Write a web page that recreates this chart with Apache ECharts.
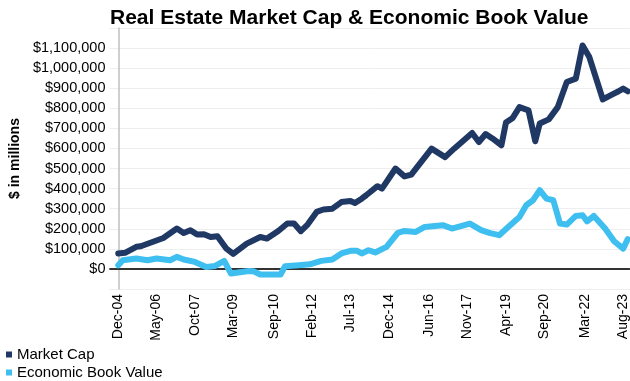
<!DOCTYPE html>
<html>
<head>
<meta charset="utf-8">
<script src="https://cdn.jsdelivr.net/npm/echarts@6/dist/echarts.min.js"></script>
<style>html,body{margin:0;padding:0;background:#fff;}#c{width:630px;height:381px;}</style>
</head>
<body>
<div id="c"></div>
<script>
var tickLabels = ['Dec-04','May-06','Oct-07','Mar-09','Sep-10','Feb-12','Jul-13','Dec-14','Jun-16','Nov-17','Apr-19','Sep-20','Mar-22','Aug-23'];

var marketCapDates = ['2004-12','2005-03','2005-08','2005-10','2006-08','2007-02','2007-05','2007-08','2007-11','2008-02','2008-05','2008-08','2008-12','2009-03','2009-09','2010-03','2010-06','2010-11','2011-03','2011-06','2011-09','2011-12','2012-04','2012-07','2012-11','2013-03','2013-07','2013-09','2013-12','2014-02','2014-07','2014-09','2015-03','2015-07','2015-10','2016-07','2017-01','2017-05','2018-01','2018-04','2018-07','2018-10','2019-02','2019-04','2019-07','2019-10','2020-02','2020-05','2020-07','2020-11','2021-03','2021-07','2021-11','2022-02','2022-05','2022-11','2023-03','2023-06','2023-08','2023-10'];
var marketCapValues = [77000,80000,110000,113000,154000,201000,179000,193000,171000,173000,159000,163000,101000,75000,126000,159000,151000,189000,226000,226000,188000,221000,284000,296000,300000,333000,338000,328000,350000,367000,412000,400000,500000,461000,470000,599000,557000,599000,677000,632000,672000,650000,616000,729000,752000,806000,790000,636000,724000,745000,806000,931000,948000,1113000,1055000,844000,868000,885000,898000,885000];

var ebvDates = ['2004-12','2005-02','2005-08','2006-01','2006-05','2006-11','2007-02','2007-05','2007-10','2008-03','2008-07','2008-11','2009-02','2009-10','2009-12','2010-03','2010-12','2011-02','2011-08','2012-01','2012-06','2012-11','2013-03','2013-07','2013-10','2013-12','2014-03','2014-06','2014-11','2015-04','2015-07','2015-12','2016-04','2016-12','2017-04','2017-12','2018-05','2018-09','2019-01','2019-05','2019-10','2020-01','2020-04','2020-07','2020-10','2021-01','2021-04','2021-07','2021-11','2022-02','2022-04','2022-07','2022-12','2023-04','2023-08','2023-10'];
var ebvValues = [18000,43000,52000,43000,52000,43000,60000,47000,35000,10000,15000,40000,-23000,-10000,-12000,-28000,-28000,13000,18000,23000,40000,47000,77000,90000,90000,77000,93000,82000,110000,179000,189000,184000,209000,218000,201000,226000,193000,178000,168000,209000,259000,317000,342000,392000,350000,342000,226000,221000,264000,267000,237000,264000,201000,138000,101000,148000];

var MONTHS = ['Jan','Feb','Mar','Apr','May','Jun','Jul','Aug','Sep','Oct','Nov','Dec'];
function monthsFromStart(s) { // 'YYYY-MM' -> months since Dec 2004
  var p = s.split('-');
  return (parseInt(p[0],10) - 2004) * 12 + parseInt(p[1],10) - 12;
}
function labelMonths(l) { // 'Dec-04' -> months since Dec 2004
  var p = l.split('-');
  return (2000 + parseInt(p[1],10) - 2004) * 12 + MONTHS.indexOf(p[0]) + 1 - 12;
}
var tickValues = tickLabels.map(labelMonths);

function pairs(dates, vals) {
  return dates.map(function (d, i) { return [monthsFromStart(d), vals[i]]; });
}
function money(v) {
  if (v < 0 || v > 1100000) return '';
  return '$' + v.toString().replace(/\B(?=(\d{3})+(?!\d))/g, ',');
}

var FONT = 'Liberation Sans, Arial, sans-serif';
var chart = echarts.init(document.getElementById('c'), null, {renderer: 'canvas'});
chart.setOption({
  animation: false,
  backgroundColor: '#ffffff',
  textStyle: {fontFamily: FONT},
  title: {
    text: 'Real Estate Market Cap & Economic Book Value',
    left: 105, top: 3,
    textStyle: {fontFamily: FONT, fontSize: 21, fontWeight: 'bold', color: '#000'}
  },
  legend: {
    orient: 'vertical', left: 6, top: 347, height: 60,
    padding: 0,
    itemWidth: 6, itemHeight: 6, itemGap: 3,
    icon: 'rect',
    textStyle: {fontFamily: FONT, fontSize: 15, color: '#000'},
    data: ['Market Cap', 'Economic Book Value']
  },
  grid: {left: 98, right: 0, top: 28, bottom: 92, containLabel: false},
  xAxis: {
    type: 'value',
    min: -3.9, max: 227,
    axisLine: {show: true, lineStyle: {color: '#bfbfbf', width: 1.5}},
    axisTick: {show: false},
    splitLine: {show: false},
    axisLabel: {
      customValues: tickValues,
      rotate: 90, margin: 5,
      fontFamily: FONT, fontSize: 14, color: '#000',
      formatter: function (v) {
        var i = tickValues.indexOf(v);
        return i >= 0 ? tickLabels[i] : '';
      }
    }
  },
  yAxis: {
    type: 'value',
    min: -100000, max: 1200000, interval: 100000,
    name: '$ in millions', nameLocation: 'middle', nameGap: 82,
    nameTextStyle: {fontFamily: FONT, fontSize: 14, fontWeight: 'bold', color: '#000'},
    axisLine: {show: true, lineStyle: {color: '#bfbfbf', width: 1.5}},
    axisTick: {show: false},
    splitLine: {show: true, lineStyle: {color: '#eeeeee', width: 1}},
    axisLabel: {fontFamily: FONT, fontSize: 14.5, color: '#000', margin: 4, formatter: money}
  },
  series: [
    {
      name: 'Market Cap', type: 'line', showSymbol: false, symbol: 'rect',
      data: pairs(marketCapDates, marketCapValues),
      itemStyle: {color: '#1f3864'},
      lineStyle: {color: '#1f3864', width: 6, cap: 'round', join: 'round'},
      z: 3
    },
    {
      name: 'Economic Book Value', type: 'line', showSymbol: false, symbol: 'rect',
      data: pairs(ebvDates, ebvValues),
      itemStyle: {color: '#3fbff0'},
      lineStyle: {color: '#3fbff0', width: 6, cap: 'round', join: 'round'},
      z: 2,
      markLine: {
        silent: true, symbol: ['none','none'], label: {show: false},
        lineStyle: {color: '#000', width: 1.5, type: 'solid'},
        data: [{yAxis: 0}],
        z: 1
      }
    }
  ]
});
</script>
</body>
</html>
